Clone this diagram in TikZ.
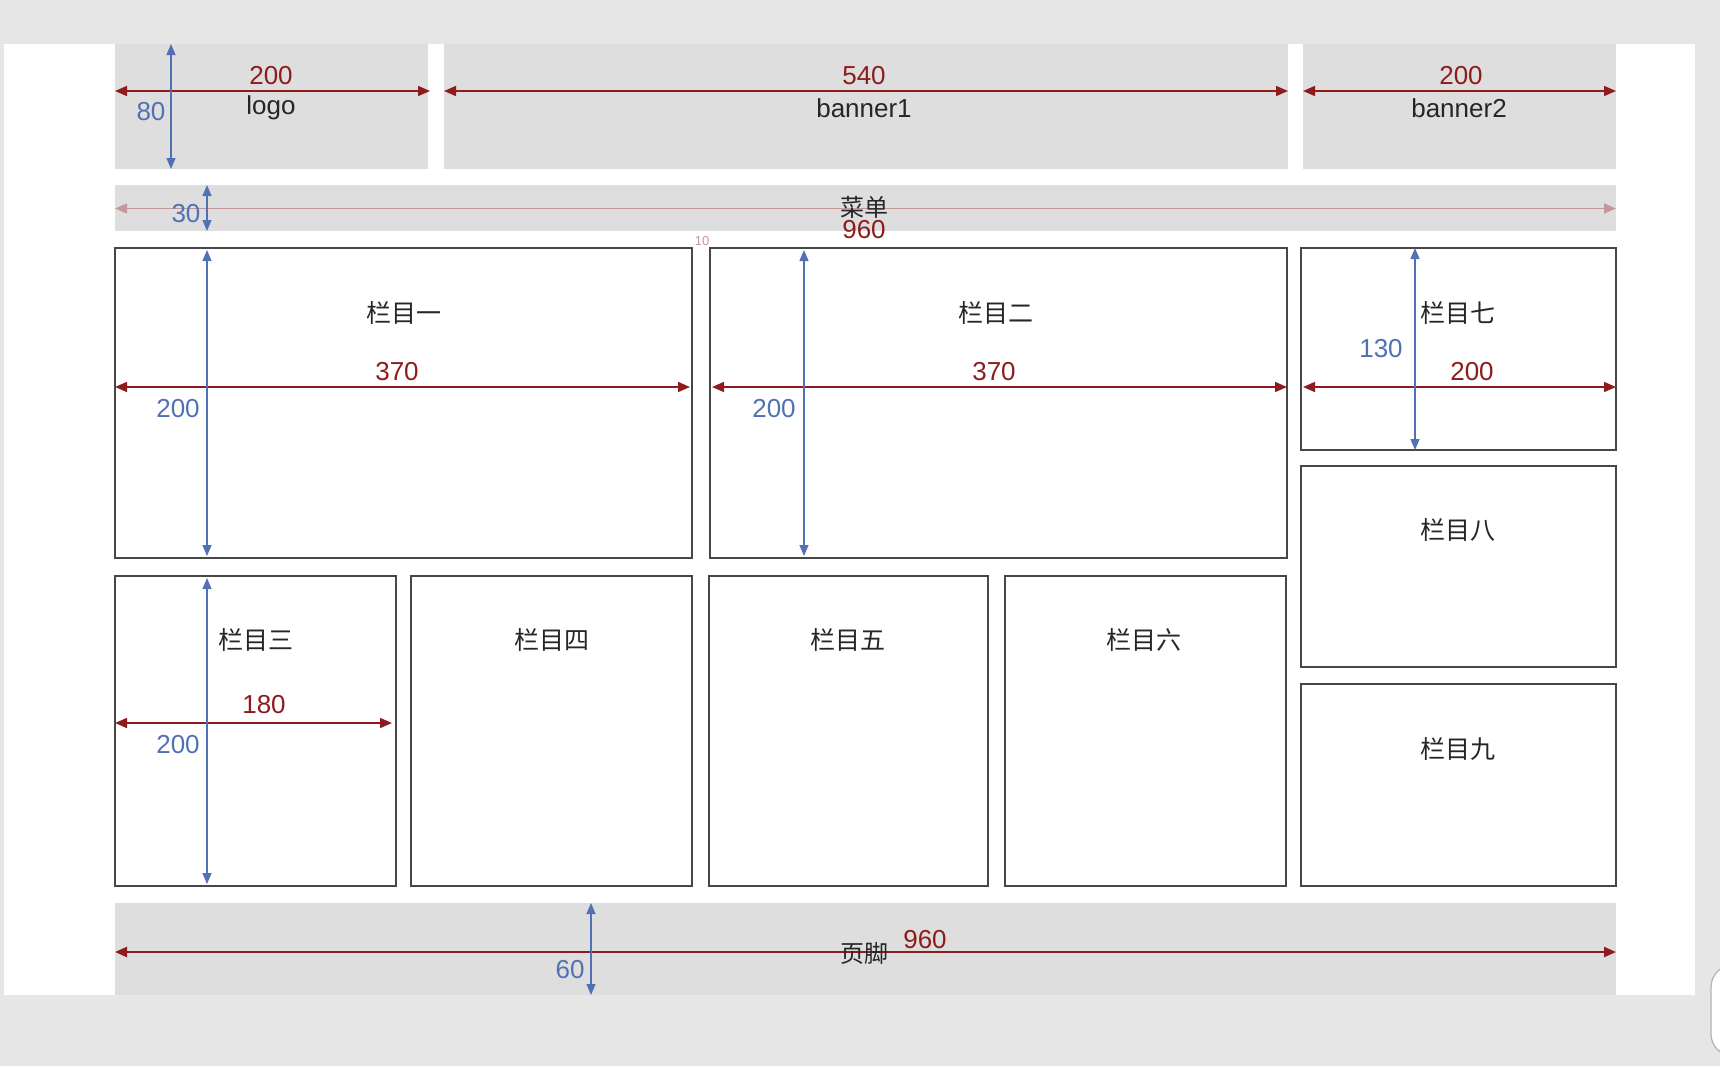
\documentclass[tikz,border=0pt]{standalone}
\usepackage{fontspec}
\setmainfont{Liberation Sans}
\newfontfamily\cjk{Noto Sans CJK SC}
\usetikzlibrary{arrows.meta}
\definecolor{outerbg}{HTML}{E6E6E6}
\definecolor{panel}{HTML}{DEDEDE}
\definecolor{dimred}{HTML}{8E1C1C}
\definecolor{dimblue}{HTML}{5271B4}
\definecolor{dimpink}{HTML}{C4979B}
\definecolor{edge}{HTML}{474747}

\begin{document}
\begin{tikzpicture}[x=1pt,y=-1pt,
  grayblock/.style={fill=panel, draw=none, anchor=north west, inner sep=0pt, outer sep=0pt},
  column/.style={fill=white, draw=edge, line width=1.5pt, anchor=north west, inner sep=0pt, outer sep=0pt},
  reddim/.style={draw=dimred, line width=1.6pt, {Triangle[length=12pt,width=10pt]}-{Triangle[length=12pt,width=10pt]}},
  pinkdim/.style={draw=dimpink, line width=1.4pt, {Triangle[length=12pt,width=10pt]}-{Triangle[length=12pt,width=10pt]}},
  bluedim/.style={draw=dimblue, line width=1.2pt, {Triangle[length=11pt,width=9pt]}-{Triangle[length=11pt,width=9pt]}},
  redlbl/.style={text=dimred, font=\fontsize{26}{30}\selectfont, inner sep=0pt},
  bluelbl/.style={text=dimblue, font=\fontsize{26}{30}\selectfont, inner sep=0pt},
  namelbl/.style={text=black!85, font=\fontsize{26}{30}\selectfont, inner sep=0pt},
  cjklbl/.style={text=black!85, font=\cjk\fontsize{25}{30}\selectfont, inner sep=0pt}
]
% canvas and page
\fill[outerbg] (0,0) rectangle (1720,1066);
\useasboundingbox (0,0) rectangle (1720,1066);
\fill[white] (4,44) rectangle (1695,995);
\draw[fill=white, draw=black!30, line width=1.2pt, rounded corners=22pt] (1711,965) rectangle (1770,1056);

% header blocks
\node[grayblock, minimum width=313pt, minimum height=125pt] (logo) at (115,44) {};
\node[grayblock, minimum width=844pt, minimum height=125pt] (banA) at (444,44) {};
\node[grayblock, minimum width=313pt, minimum height=125pt] (banB) at (1303,44) {};
\node[grayblock, minimum width=1501pt, minimum height=46pt] (menu) at (115,185) {};
\node[grayblock, minimum width=1501pt, minimum height=92pt] (foot) at (115,903) {};

% content columns
\node[column, minimum width=577pt, minimum height=310pt] (c1) at (115,248) {};
\node[column, minimum width=577pt, minimum height=310pt] (c2) at (710,248) {};
\node[column, minimum width=315pt, minimum height=202pt] (c7) at (1301,248) {};
\node[column, minimum width=315pt, minimum height=201pt] (c8) at (1301,466) {};
\node[column, minimum width=315pt, minimum height=202pt] (c9) at (1301,684) {};
\node[column, minimum width=281pt, minimum height=310pt] (c3) at (115,576) {};
\node[column, minimum width=281pt, minimum height=310pt] (c4) at (411,576) {};
\node[column, minimum width=279pt, minimum height=310pt] (c5) at (709,576) {};
\node[column, minimum width=281pt, minimum height=310pt] (c6) at (1005,576) {};

% dimension end points
\coordinate (logoL) at (115,91);   \coordinate (logoR) at (430,91);
\coordinate (logoT) at (171,44);   \coordinate (logoB) at (171,169);
\coordinate (banAL) at (444,91);   \coordinate (banAR) at (1288,91);
\coordinate (banBL) at (1303,91);  \coordinate (banBR) at (1616,91);
\coordinate (menuL) at (115,208.5); \coordinate (menuR) at (1616,208.5);
\coordinate (menuT) at (207,185);  \coordinate (menuB) at (207,231);
\coordinate (c1L) at (115,387);    \coordinate (c1R) at (690,387);
\coordinate (c1T) at (207,250);    \coordinate (c1B) at (207,556);
\coordinate (c2L) at (712,387);    \coordinate (c2R) at (1287,387);
\coordinate (c2T) at (804,250);    \coordinate (c2B) at (804,556);
\coordinate (c7L) at (1303,387);   \coordinate (c7R) at (1616,387);
\coordinate (c7T) at (1415,248);   \coordinate (c7B) at (1415,450);
\coordinate (c3L) at (115,723);    \coordinate (c3R) at (392,723);
\coordinate (c3T) at (207,578);    \coordinate (c3B) at (207,884);
\coordinate (footL) at (115,952);  \coordinate (footR) at (1616,952);
\coordinate (footT) at (591,903);  \coordinate (footB) at (591,995);

% widths and heights
\draw[reddim] (logoL) -- (logoR);
\draw[bluedim] (logoT) -- (logoB);
\draw[reddim] (banAL) -- (banAR);
\draw[reddim] (banBL) -- (banBR);
\draw[pinkdim] (menuL) -- (menuR);
\draw[bluedim] (menuT) -- (menuB);
\draw[reddim] (c1L) -- (c1R);
\draw[bluedim] (c1T) -- (c1B);
\draw[reddim] (c2L) -- (c2R);
\draw[bluedim] (c2T) -- (c2B);
\draw[reddim] (c7L) -- (c7R);
\draw[bluedim] (c7T) -- (c7B);
\draw[reddim] (c3L) -- (c3R);
\draw[bluedim] (c3T) -- (c3B);
\draw[reddim, line width=2.2pt] (footL) -- (footR);
\draw[bluedim] (footT) -- (footB);

% header labels
\node[redlbl] (wLogo) at (271,76) {200};
\node[namelbl] (tLogo) at (271,108) {logo};
\node[bluelbl] (hLogo) at (151,112) {80};
\node[redlbl] (wBanA) at (864,76) {540};
\node[namelbl] (tBanA) at (864,108) {banner1};
\node[redlbl] (wBanB) at (1461,76) {200};
\node[namelbl] (tBanB) at (1459,108) {banner2};

% menu labels
\node[cjklbl, font=\cjk\fontsize{24}{28}\selectfont] (tMenu) at (864,207) {菜单};
\node[redlbl] (wMenu) at (864,230) {960};
\node[bluelbl] (hMenu) at (186,214) {30};
\node[text=dimpink, font=\fontsize{13}{15}\selectfont, inner sep=0pt] (gap) at (702,241) {10};

% column labels
\node[cjklbl] (t1) at (404,313) {栏目一};
\node[redlbl] (w1) at (397,372) {370};
\node[bluelbl] (h1) at (178,409) {200};
\node[cjklbl] (t2) at (996,313) {栏目二};
\node[redlbl] (w2) at (994,372) {370};
\node[bluelbl] (h2) at (774,409) {200};
\node[cjklbl] (t7) at (1458,313) {栏目七};
\node[bluelbl] (h7) at (1381,349) {130};
\node[redlbl] (w7) at (1472,372) {200};
\node[cjklbl] (t8) at (1458,530) {栏目八};
\node[cjklbl] (t9) at (1458,749) {栏目九};
\node[cjklbl] (t3) at (256,640) {栏目三};
\node[redlbl] (w3) at (264,705) {180};
\node[bluelbl] (h3) at (178,745) {200};
\node[cjklbl] (t4) at (552,640) {栏目四};
\node[cjklbl] (t5) at (848,640) {栏目五};
\node[cjklbl] (t6) at (1144,640) {栏目六};

% footer labels
\node[cjklbl, font=\cjk\fontsize{24}{28}\selectfont] (tFoot) at (864,953) {页脚};
\node[redlbl] (wFoot) at (925,940) {960};
\node[bluelbl] (hFoot) at (570,970) {60};
\end{tikzpicture}
\end{document}
